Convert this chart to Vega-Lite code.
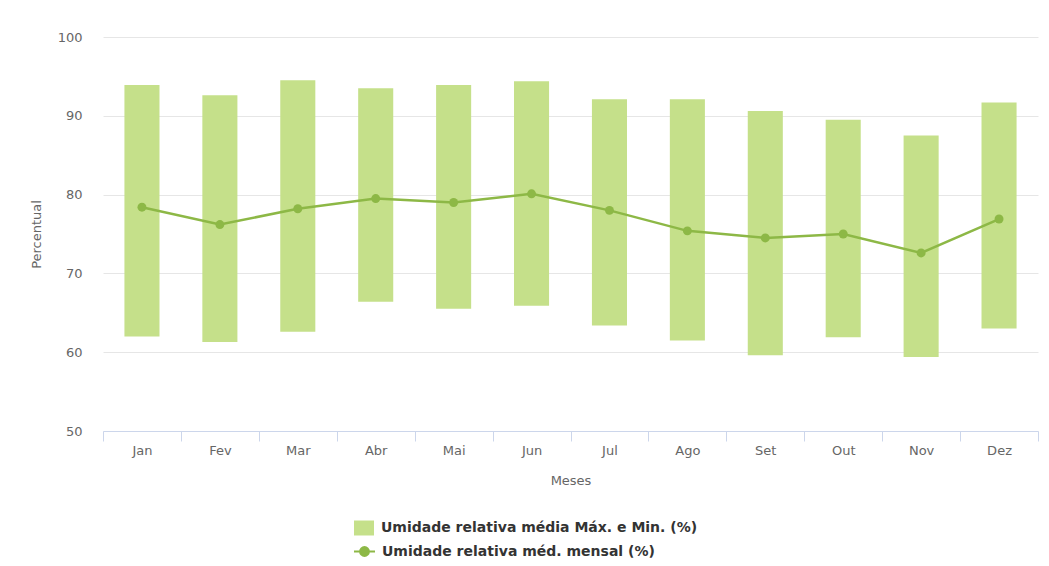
{
  "$schema": "https://vega.github.io/schema/vega-lite/v6.json",
  "width": 935,
  "height": 394,
  "autosize": {"type": "none"},
  "padding": {"left": 103, "top": 37, "right": 11, "bottom": 135},
  "background": "white",
  "config": {
    "view": {"stroke": null},
    "font": "DejaVu Sans",
    "axis": {"labelFont": "DejaVu Sans", "titleFont": "DejaVu Sans", "labelColor": "#666666", "titleColor": "#666666", "labelFontSize": 13, "titleFontSize": 13, "titleFontWeight": "normal"}
  },
  "data": {
    "values": [
      {"mes": "Jan", "min": 62.0, "max": 93.9, "media": 78.4},
      {"mes": "Fev", "min": 61.3, "max": 92.6, "media": 76.2},
      {"mes": "Mar", "min": 62.6, "max": 94.5, "media": 78.2},
      {"mes": "Abr", "min": 66.4, "max": 93.5, "media": 79.5},
      {"mes": "Mai", "min": 65.5, "max": 93.9, "media": 79.0},
      {"mes": "Jun", "min": 65.9, "max": 94.4, "media": 80.1},
      {"mes": "Jul", "min": 63.4, "max": 92.1, "media": 78.0},
      {"mes": "Ago", "min": 61.5, "max": 92.1, "media": 75.4},
      {"mes": "Set", "min": 59.6, "max": 90.6, "media": 74.5},
      {"mes": "Out", "min": 61.9, "max": 89.5, "media": 75.0},
      {"mes": "Nov", "min": 59.4, "max": 87.5, "media": 72.6},
      {"mes": "Dez", "min": 63.0, "max": 91.7, "media": 76.9}
    ]
  },
  "encoding": {
    "x": {
      "field": "mes", "type": "ordinal", "sort": null,
      "scale": {"type": "band", "paddingInner": 0, "paddingOuter": 0},
      "axis": {"title": "Meses", "labelAngle": 0, "tickBand": "extent", "domainColor": "#ccd6eb", "tickColor": "#ccd6eb", "tickSize": 10, "labelPadding": 3, "titlePadding": 17, "grid": false}
    }
  },
  "layer": [
    {
      "mark": {"type": "bar", "width": {"band": 0.45}},
      "encoding": {
        "y": {
          "field": "min", "type": "quantitative",
          "scale": {"domain": [50, 100], "nice": false, "zero": false},
          "axis": {"title": "Percentual", "values": [50, 60, 70, 80, 90, 100], "domain": false, "ticks": false, "tickSize": 0, "labelPadding": 21, "titlePadding": 14, "gridColor": "#e6e6e6", "gridWidth": 1}
        },
        "y2": {"field": "max"},
        "color": {
          "datum": "Umidade relativa média Máx. e Min. (%)",
          "scale": {"range": ["#c5e08a"]},
          "legend": {"title": null, "orient": "none", "legendX": 250, "legendY": 480, "symbolType": "M-1,-0.75H1V0.75H-1Z", "symbolSize": 400, "symbolOpacity": 1, "labelFont": "DejaVu Sans", "labelFontSize": 14, "labelFontWeight": "bold", "labelColor": "#333333", "labelOffset": 6, "labelLimit": 0}
        }
      }
    },
    {
      "mark": {"type": "line", "strokeWidth": 2.5},
      "encoding": {
        "y": {"field": "media", "type": "quantitative"},
        "color": {
          "datum": "Umidade relativa méd. mensal (%)",
          "scale": {"range": ["#8db846"]},
          "legend": {"title": null, "orient": "none", "legendX": 250, "legendY": 503, "symbolType": "M-1,0H1M-0.42,0A0.42,0.42 0 1,1 0.42,0A0.42,0.42 0 1,1 -0.42,0Z", "symbolSize": 441, "symbolStrokeWidth": 2, "symbolFillColor": "#8db846", "labelFont": "DejaVu Sans", "labelFontSize": 14, "labelFontWeight": "bold", "labelColor": "#333333", "labelOffset": 6, "labelLimit": 0}
        }
      }
    },
    {
      "mark": {"type": "point", "filled": true, "size": 80, "opacity": 1, "color": "#8db846"},
      "encoding": {
        "y": {"field": "media", "type": "quantitative"}
      }
    }
  ],
  "resolve": {"scale": {"color": "independent"}}
}
